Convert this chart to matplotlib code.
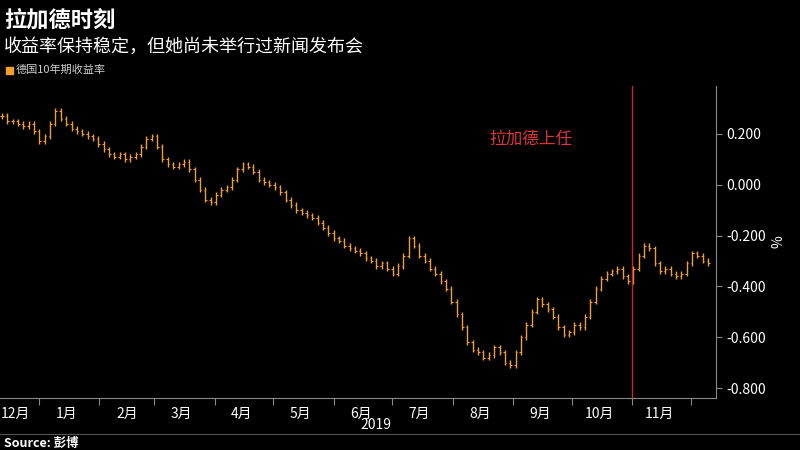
import numpy as np
import pandas as pd
import matplotlib
matplotlib.use("Agg")
import matplotlib.pyplot as plt
import matplotlib.dates as mdates

plt.rcParams['font.family'] = ['Noto Sans CJK SC', 'DejaVu Sans']

# German 10y yield, every other trading day
yields = [0.27, 0.25, 0.25, 0.24, 0.23, 0.24, 0.21, 0.17, 0.19, 0.24,
          0.29, 0.26, 0.24, 0.22, 0.21, 0.20, 0.19, 0.18, 0.16, 0.14,
          0.12, 0.11, 0.12, 0.10, 0.11, 0.12, 0.15, 0.18, 0.19, 0.15,
          0.10, 0.08, 0.07, 0.08, 0.09, 0.06, 0.02, -0.02, -0.06, -0.07,
          -0.04, -0.02, -0.01, 0.02, 0.06, 0.08, 0.07, 0.05, 0.02, 0.01,
          0.00, -0.01, -0.03, -0.06, -0.08, -0.10, -0.11, -0.12, -0.13, -0.15,
          -0.17, -0.19, -0.21, -0.22, -0.24, -0.25, -0.26, -0.27, -0.29, -0.30,
          -0.32, -0.31, -0.33, -0.35, -0.32, -0.28, -0.21, -0.24, -0.28, -0.30,
          -0.33, -0.35, -0.38, -0.41, -0.46, -0.51, -0.56, -0.62, -0.65, -0.66,
          -0.68, -0.67, -0.64, -0.66, -0.70, -0.71, -0.66, -0.60, -0.55, -0.50,
          -0.45, -0.47, -0.49, -0.52, -0.56, -0.59, -0.58, -0.55, -0.56, -0.52,
          -0.46, -0.41, -0.37, -0.35, -0.34, -0.33, -0.36, -0.38, -0.33, -0.28,
          -0.24, -0.25, -0.31, -0.34, -0.33, -0.35, -0.36, -0.35, -0.31, -0.27,
          -0.28, -0.30, -0.31]
dates = pd.date_range('2018-12-13', '2019-12-10', periods=len(yields))
month_labels = ['12月', '1月', '2月', '3月', '4月', '5月', '6月', '7月', '8月', '9月', '10月', '11月']
yticks = [0.2, 0.0, -0.2, -0.4, -0.6, -0.8]
lagarde_day = pd.Timestamp('2019-11-01')

orange = '#f0a02c'
fig = plt.figure(figsize=(8, 4.5), dpi=100, facecolor='black')
ax = fig.add_axes([0.0, 0.115, 0.895, 0.695], facecolor='black')

prev = [yields[0]] + yields[:-1]
ax.vlines(dates, np.minimum(prev, yields) - 0.01, np.maximum(prev, yields) + 0.01, color=orange, lw=1)
ax.hlines(prev, dates - pd.Timedelta(days=0.8), dates, color=orange, lw=0.8)
ax.hlines(yields, dates, dates + pd.Timedelta(days=0.8), color=orange, lw=0.8)

ax.axvline(lagarde_day, color='#c8282d', lw=1)
ax.text(pd.Timestamp('2019-08-20'), 0.16, '拉加德上任', color='#e0353a', fontsize=12)

ax.set_xlim(pd.Timestamp('2018-12-12'), pd.Timestamp('2019-12-14'))
ax.set_ylim(-0.84, 0.39)
ax.yaxis.tick_right()
ax.set_yticks(yticks)
ax.set_yticklabels(['%.3f' % v for v in yticks], color='white', fontsize=10)
ax.yaxis.set_label_position('right')
ax.set_ylabel('%', color='white', fontsize=10, rotation=90)

label_pos = list(pd.date_range('2018-12-01', periods=12, freq='MS') + pd.Timedelta(days=14))
label_pos[0] = pd.Timestamp('2018-12-20')  # keep the first label inside the frame
ax.xaxis.set_major_locator(mdates.MonthLocator())
ax.xaxis.set_major_formatter(plt.NullFormatter())
ax.set_xticks(label_pos, minor=True)
ax.set_xticklabels(month_labels, minor=True, color='white', fontsize=10)
ax.tick_params(axis='x', which='minor', length=0, pad=6)
ax.tick_params(axis='x', which='major', length=5, color='#888888')
ax.tick_params(axis='y', length=4, color='#888888')
for side in ['top', 'left']:
    ax.spines[side].set_visible(False)
ax.spines['bottom'].set_color('#888888')
ax.spines['right'].set_color('#888888')

fig.text(0.005, 0.955, '拉加德时刻', color='white', fontsize=16, fontweight='bold', va='center')
fig.text(0.005, 0.895, '收益率保持稳定，但她尚未举行过新闻发布会', color='white', fontsize=13, va='center')
fig.patches.append(plt.Rectangle((0.008, 0.836), 0.008, 0.016, color=orange, transform=fig.transFigure))
fig.text(0.02, 0.845, '德国10年期收益率', color='#cccccc', fontsize=8, va='center')
fig.text(0.47, 0.055, '2019', color='white', fontsize=10, ha='center', va='center')
fig.add_artist(plt.Line2D([0, 1], [0.035, 0.035], color='#555555', lw=0.8, transform=fig.transFigure))
fig.text(0.005, 0.015, 'Source: 彭博', color='white', fontsize=9, fontweight='bold', va='center')

fig.savefig('out.png', dpi=100, facecolor='black')
